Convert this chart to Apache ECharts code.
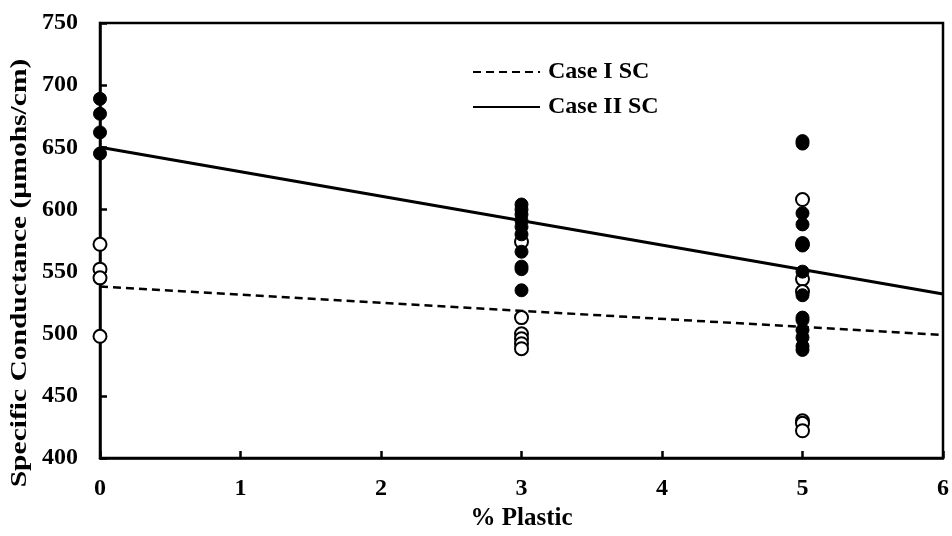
<!DOCTYPE html>
<html>
<head>
<meta charset="utf-8">
<script src="https://cdn.jsdelivr.net/npm/echarts@6/dist/echarts.min.js"></script>
<style>
  html, body { margin: 0; padding: 0; background: #fff; }
  #chart { width: 952px; height: 536px; }
</style>
</head>
<body>
<div id="chart"></div>
<script>
// Measured specific conductance (µmohs/cm) at each plastic content (%)
const solid0 = [689, 677, 662, 645];
const open0 = [572, 552, 545, 498];

const solid3 = [604, 600, 596, 591, 586, 580, 566, 554, 552, 535];
const open3 = [574, 513, 500, 496, 492, 488];

const solid5 = [655, 653, 597, 588, 573, 571, 550, 531, 513, 511, 503, 497, 490, 487];
const open5 = [608, 572, 544, 534, 430, 428, 422];

// Linear trend lines (value at 0 % and 6 % plastic)
const fitX = [0, 6];
const caseIFit = [538, 499];
const caseIIFit = [650, 532];

const xTicks = [0, 1, 2, 3, 4, 5, 6];
const yTicks = [400, 450, 500, 550, 600, 650, 700, 750];

const xTitle = '% Plastic';
const yTitle = 'Specific Conductance (µmohs/cm)';

function pts(x, vals) { return vals.map(v => [x, v]); }

const solidPts = [].concat(pts(0, solid0), pts(3, solid3), pts(5, solid5));
const openPts = [].concat(pts(0, open0), pts(3, open3), pts(5, open5));

const font = 'Liberation Serif, Times New Roman, serif';
const chart = echarts.init(document.getElementById('chart'), null, { renderer: 'canvas' });

chart.setOption({
  animation: false,
  backgroundColor: '#fff',
  grid: {
    left: 100, right: 9, top: 23, bottom: 70,
    show: true, borderColor: '#000', borderWidth: 2.5, backgroundColor: 'transparent'
  },
  legend: {
    orient: 'vertical',
    left: 467, top: 55,
    itemWidth: 67, itemHeight: 14, itemGap: 11,
    itemStyle: { opacity: 0 },
    textStyle: { fontFamily: font, fontWeight: 'bold', fontSize: 24, color: '#000', padding: [0, 0, 0, 3] },
    data: ['Case I SC', 'Case II SC']
  },
  // Vertical axis title, drawn wide-set like the rest of the lettering
  graphic: [{
    type: 'text',
    x: 20, y: 273,
    rotation: Math.PI / 2,
    scaleX: 1.23, scaleY: 1,
    style: {
      text: yTitle,
      fontFamily: font, fontWeight: 'bold', fontSize: 24, fill: '#000',
      align: 'center', verticalAlign: 'middle'
    }
  }],
  xAxis: {
    type: 'value', min: xTicks[0], max: xTicks[xTicks.length - 1], interval: 1,
    name: xTitle, nameLocation: 'middle', nameGap: 41,
    nameTextStyle: { fontFamily: font, fontWeight: 'bold', fontSize: 25, color: '#000' },
    axisLine: { lineStyle: { color: '#000', width: 2.5 } },
    axisTick: { inside: true, length: 7, lineStyle: { color: '#000', width: 2.5 } },
    axisLabel: { margin: 19, fontFamily: font, fontWeight: 'bold', fontSize: 24, color: '#000' },
    splitLine: { show: false }
  },
  yAxis: {
    type: 'value', min: yTicks[0], max: yTicks[yTicks.length - 1], interval: 50,
    axisLine: { lineStyle: { color: '#000', width: 2.5 } },
    axisTick: { inside: true, length: 7, lineStyle: { color: '#000', width: 2.5 } },
    axisLabel: { margin: 22, fontFamily: font, fontWeight: 'bold', fontSize: 24, color: '#000' },
    splitLine: { show: false }
  },
  series: [
    {
      name: 'Case I SC', type: 'line', symbol: 'none',
      data: fitX.map((x, i) => [x, caseIFit[i]]),
      lineStyle: { color: '#000', width: 2.5, type: [8, 5] },
      itemStyle: { color: '#000' }, z: 3
    },
    {
      name: 'Case II SC', type: 'line', symbol: 'none',
      data: fitX.map((x, i) => [x, caseIIFit[i]]),
      lineStyle: { color: '#000', width: 3 },
      itemStyle: { color: '#000' }, z: 3
    },
    {
      name: 'open', type: 'scatter', symbol: 'circle', symbolSize: 13,
      data: openPts,
      itemStyle: { color: '#fff', borderColor: '#000', borderWidth: 2, opacity: 1 }, z: 4
    },
    {
      name: 'solid', type: 'scatter', symbol: 'circle', symbolSize: 13,
      data: solidPts,
      itemStyle: { color: '#000', borderColor: '#000', borderWidth: 1, opacity: 1 }, z: 5
    }
  ]
});
</script>
</body>
</html>
